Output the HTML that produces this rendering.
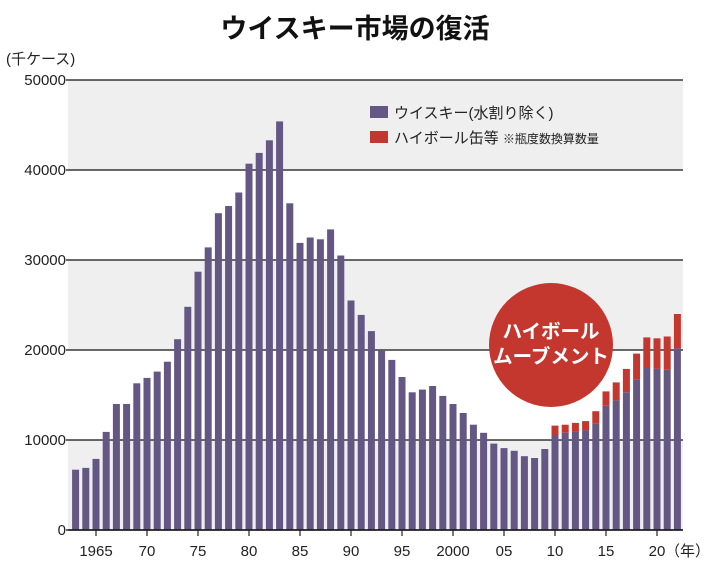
<!DOCTYPE html>
<html><head><meta charset="utf-8"><style>
body{margin:0;background:#fff;}
svg{display:block;font-family:"Liberation Sans","Noto Sans CJK JP",sans-serif;}
</style></head><body>
<svg id="c" width="710" height="571" viewBox="0 0 710 571">
<text x="355" y="38" text-anchor="middle" font-size="27" font-weight="bold" fill="#111">ウイスキー市場の復活</text>
<text x="6" y="64" font-size="15" fill="#222">(千ケース)</text>
<g id="bands"></g><g id="grid"></g><g id="bars"></g><g id="xaxis"></g>
<g>
<rect x="370" y="106" width="18" height="12" fill="#645784"/>
<text x="394" y="118" font-size="15" fill="#222">ウイスキー(水割り除く)</text>
<rect x="370" y="131" width="18" height="12" fill="#c4372f"/>
<text x="394" y="143" font-size="15" fill="#222">ハイボール缶等 <tspan font-size="12">※瓶度数換算数量</tspan></text>
</g>
<g>
<circle cx="551" cy="345" r="62" fill="#c4372f"/>
<text x="551" y="338" text-anchor="middle" font-size="19.5" font-weight="bold" fill="#fff">ハイボール</text>
<text x="551" y="363" text-anchor="middle" font-size="19.5" font-weight="bold" fill="#fff">ムーブメント</text>
</g>
</svg>
<script>
const years=[1963,1964,1965,1966,1967,1968,1969,1970,1971,1972,1973,1974,1975,1976,1977,1978,1979,1980,1981,1982,1983,1984,1985,1986,1987,1988,1989,1990,1991,1992,1993,1994,1995,1996,1997,1998,1999,2000,2001,2002,2003,2004,2005,2006,2007,2008,2009,2010,2011,2012,2013,2014,2015,2016,2017,2018,2019,2020,2021,2022];
const whisky=[6700,6900,7900,10900,14000,14000,16300,16900,17600,18700,21200,24800,28700,31400,35200,36000,37500,40700,41900,43300,45400,36300,31900,32500,32300,33400,30500,25500,23900,22100,19900,18900,17000,15300,15600,16000,14900,14000,13000,11700,10800,9600,9100,8800,8200,8000,9000,10500,10800,10900,11100,11800,13800,14400,15300,16700,18000,17900,17800,20200];
const highball=[0,0,0,0,0,0,0,0,0,0,0,0,0,0,0,0,0,0,0,0,0,0,0,0,0,0,0,0,0,0,0,0,0,0,0,0,0,0,0,0,0,0,0,0,0,0,0,1100,900,1000,1000,1400,1600,2000,2600,2900,3400,3400,3700,3800];
const yTicks=[0,10000,20000,30000,40000,50000];
const xTickLabels=[[1965,"1965"],[1970,"70"],[1975,"75"],[1980,"80"],[1985,"85"],[1990,"90"],[1995,"95"],[2000,"2000"],[2005,"05"],[2010,"10"],[2015,"15"],[2020,"20"]];
const NS="http://www.w3.org/2000/svg";
const L=68,R=683,B=530,T=80;
const y=v=>B-(v/50000)*(B-T);
const x=yr=>75.6+(yr-1963)*10.2;
function mk(tag,attrs,parent){const e=document.createElementNS(NS,tag);for(const k in attrs)e.setAttribute(k,attrs[k]);document.getElementById(parent).appendChild(e);return e;}
for(let i=0;i<yTicks.length-1;i++){if(i%2===0){const r=mk('rect',{x:L,y:y(yTicks[i+1]),width:R-L,height:y(yTicks[i])-y(yTicks[i+1]),fill:'#efefef'},'bands');

}}
yTicks.forEach(v=>{const l=mk('line',{x1:L-2,x2:R,y1:y(v),y2:y(v),stroke:'#111','stroke-width':1.3},'grid');


const t=mk('text',{x:L-2,y:y(v)+5,'text-anchor':'end','font-size':15,fill:'#222'},'grid');t.textContent=v;

});
years.forEach((yr,i)=>{const cx=x(yr);
const b=mk('rect',{x:cx-3.5,y:y(whisky[i]),width:7,height:B-y(whisky[i]),fill:'#645784'},'bars');


if(highball[i]>0){const h=mk('rect',{x:cx-3.5,y:y(whisky[i]+highball[i]),width:7,height:y(whisky[i])-y(whisky[i]+highball[i]),fill:'#c4372f'},'bars');

}});
mk('line',{x1:L,x2:R,y1:B,y2:B,stroke:'#111','stroke-width':1.5},'xaxis');
xTickLabels.forEach(([yr,lab])=>{mk('line',{x1:x(yr),x2:x(yr),y1:B,y2:B+6,stroke:'#222','stroke-width':1.2},'xaxis');
const t=mk('text',{x:x(yr),y:B+26,'text-anchor':'middle','font-size':15,fill:'#222'},'xaxis');t.textContent=lab;

});
const u=mk('text',{x:x(2020)+8,y:B+26,'font-size':15,fill:'#222'},'xaxis');u.textContent='（年）';


</script>
</body></html>
